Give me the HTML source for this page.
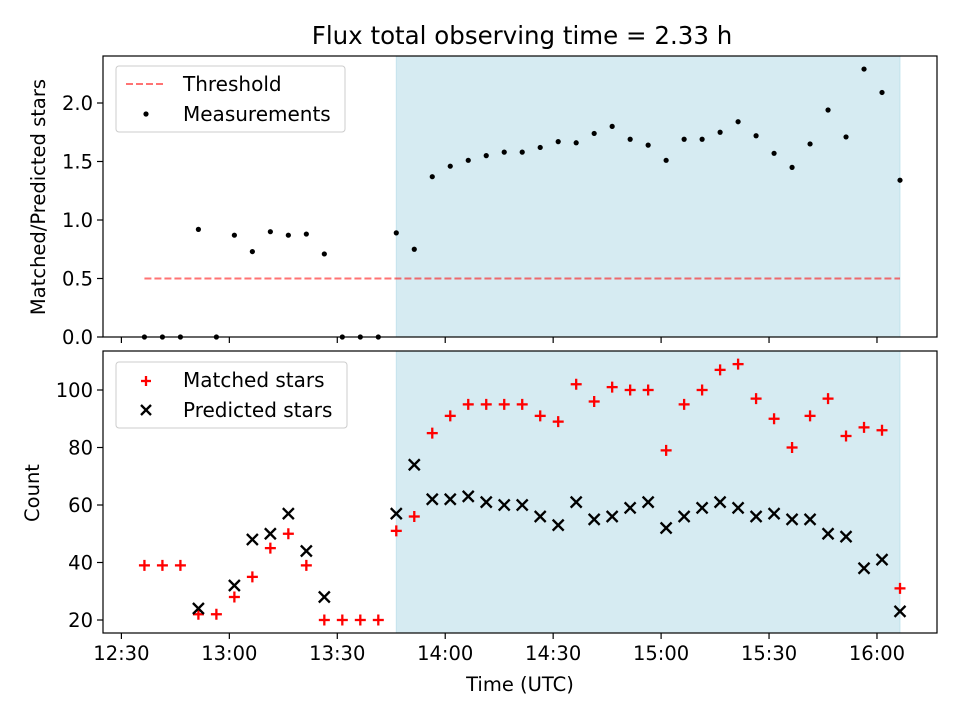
<!DOCTYPE html>
<html><head><meta charset="utf-8"><style>
body{margin:0;background:#fff;font-family:"Liberation Sans","DejaVu Sans",sans-serif}
svg text{font-family:"DejaVu Sans","Liberation Sans",sans-serif;fill:#000}
</style></head><body>
<svg id="c" width="960" height="720" xmlns="http://www.w3.org/2000/svg"></svg>
<script>
const times=[36.4,41.4,46.4,51.4,56.4,61.4,66.4,71.4,76.4,81.4,86.4,91.4,96.4,101.4,106.4,111.4,116.4,121.4,126.4,131.4,136.4,141.4,146.4,151.4,156.4,161.4,166.4,171.4,176.4,181.4,186.4,191.4,196.4,201.4,206.4,211.4,216.4,221.4,226.4,231.4,236.4,241.4,246.4];
const ratio=[0,0,0,0.92,0,0.87,0.73,0.90,0.87,0.88,0.71,0,0,0,0.89,0.75,1.37,1.46,1.51,1.55,1.58,1.58,1.62,1.67,1.66,1.74,1.80,1.69,1.64,1.51,1.69,1.69,1.75,1.84,1.72,1.57,1.45,1.65,1.94,1.71,2.29,2.09,1.34];
const matched=[39,39,39,22,22,28,35,45,50,39,20,20,20,20,51,56,85,91,95,95,95,95,91,89,102,96,101,100,100,79,95,100,107,109,97,90,80,91,97,84,87,86,31];
const predicted=[null,null,null,24,null,32,48,50,57,44,28,null,null,null,57,74,62,62,63,61,60,60,56,53,61,55,56,59,61,52,56,59,61,59,56,57,55,55,50,49,38,41,23];
const threshold=0.5;
const shadeStart=106.4, shadeEnd=246.4;
const xTicks=[30,60,90,120,150,180,210,240];
const xTickLabels=["12:30","13:00","13:30","14:00","14:30","15:00","15:30","16:00"];
const topTicks=[0,0.5,1.0,1.5,2.0];
const botTicks=[20,40,60,80,100];

const NS="http://www.w3.org/2000/svg";
const svg=document.getElementById('c');
function el(tag,attrs,parent){const e=document.createElementNS(NS,tag);for(const k in attrs)e.setAttribute(k,attrs[k]);(parent||svg).appendChild(e);return e;}
const L=103,R=937;
const X=t=>121.4+(t-30)*3.598;
const T={top:56,bot:337,y:v=>337-v*117};
const B={top:351,bot:633,y:v=>620-(v-20)*2.875};

[T,B].forEach((p,i)=>{
  const r=el('rect',{x:X(shadeStart),y:p.top,width:X(shadeEnd)-X(shadeStart),height:p.bot-p.top,fill:'#add8e6','fill-opacity':0.5,stroke:'#add8e6','stroke-opacity':0.6});
  
  
});
const th=el('line',{x1:X(times[0]),x2:X(times[times.length-1]),y1:T.y(threshold),y2:T.y(threshold),stroke:'#ff0000','stroke-opacity':0.55,'stroke-width':2,'stroke-dasharray':'7,3'});


ratio.forEach((v,i)=>{
  const c=el('circle',{cx:X(times[i]),cy:T.y(v),r:2.6,fill:'#000'});
  
  
});
function plus(x,y,color){const g=el('g',{stroke:color,'stroke-width':2.3});el('line',{x1:x-5.5,x2:x+5.5,y1:y,y2:y},g);el('line',{x1:x,x2:x,y1:y-5.5,y2:y+5.5},g);return g;}
function cross(x,y,color){const g=el('g',{stroke:color,'stroke-width':2.3});el('line',{x1:x-5.5,x2:x+5.5,y1:y-5.5,y2:y+5.5},g);el('line',{x1:x-5.5,x2:x+5.5,y1:y+5.5,y2:y-5.5},g);return g;}
matched.forEach((v,i)=>{
  const g=plus(X(times[i]),B.y(v),'#ff0000');
  
  
});
predicted.forEach((v,i)=>{
  if(v===null)return;
  const g=cross(X(times[i]),B.y(v),'#000');
  
  
});
[T,B].forEach((p,i)=>{
  const f=el('rect',{x:L,y:p.top,width:R-L,height:p.bot-p.top,fill:'none',stroke:'#000','stroke-width':1.2});
  
  
  xTicks.forEach((t,j)=>{
    el('line',{x1:X(t),x2:X(t),y1:p.bot,y2:p.bot+6,stroke:'#000','stroke-width':1.2});
    if(i){const tx=el('text',{x:X(t),y:p.bot+27,'text-anchor':'middle',style:'font-size:19.5px'});tx.textContent=xTickLabels[j];
      
      }
  });
  const ticks=i?botTicks:topTicks;
  ticks.forEach(v=>{
    const y=p.y(v);
    el('line',{x1:L-6,x2:L,y1:y,y2:y,stroke:'#000','stroke-width':1.2});
    const tx=el('text',{x:L-10,y:y+7,'text-anchor':'end',style:'font-size:19.5px'});
    tx.textContent=i?String(v):v.toFixed(1);
    
    
  });
});
</script>
<div style="position:absolute;left:0;top:0;width:960px;height:720px;pointer-events:none">
<svg width="960" height="720" xmlns="http://www.w3.org/2000/svg" style="position:absolute;left:0;top:0">
<text x="522" y="44" style="font-size:24.5px" text-anchor="middle">Flux total observing time = 2.33 h</text>
<text transform="translate(45,197) rotate(-90)" style="font-size:19.5px" text-anchor="middle">Matched/Predicted stars</text>
<text transform="translate(39,493) rotate(-90)" style="font-size:19.5px" text-anchor="middle">Count</text>
<text x="520" y="691" style="font-size:19.5px" text-anchor="middle">Time (UTC)</text>
<g>
<rect x="116" y="66" width="229" height="66" rx="3" fill="#fff" fill-opacity="0.85" stroke="#ccc"/>
<line x1="126" x2="166" y1="84" y2="84" stroke="#ff0000" stroke-opacity="0.55" stroke-width="2" stroke-dasharray="7,3"/>
<text x="183" y="91" style="font-size:20px">Threshold</text>
<circle cx="146" cy="114" r="2.6" fill="#000"/>
<text x="183" y="121" style="font-size:20px">Measurements</text>
</g>
<g>
<rect x="116" y="362" width="231" height="66" rx="3" fill="#fff" fill-opacity="0.85" stroke="#ccc"/>
<g stroke="#ff0000" stroke-width="2.3"><line x1="141" x2="151" y1="381" y2="381"/><line x1="146" x2="146" y1="376" y2="386"/></g>
<text x="183" y="387" style="font-size:20px">Matched stars</text>
<g stroke="#000" stroke-width="2.3"><line x1="141" x2="151" y1="405" y2="415"/><line x1="141" x2="151" y1="415" y2="405"/></g>
<text x="183" y="417" style="font-size:20px">Predicted stars</text>
</g>
</svg></div>
</body></html>
